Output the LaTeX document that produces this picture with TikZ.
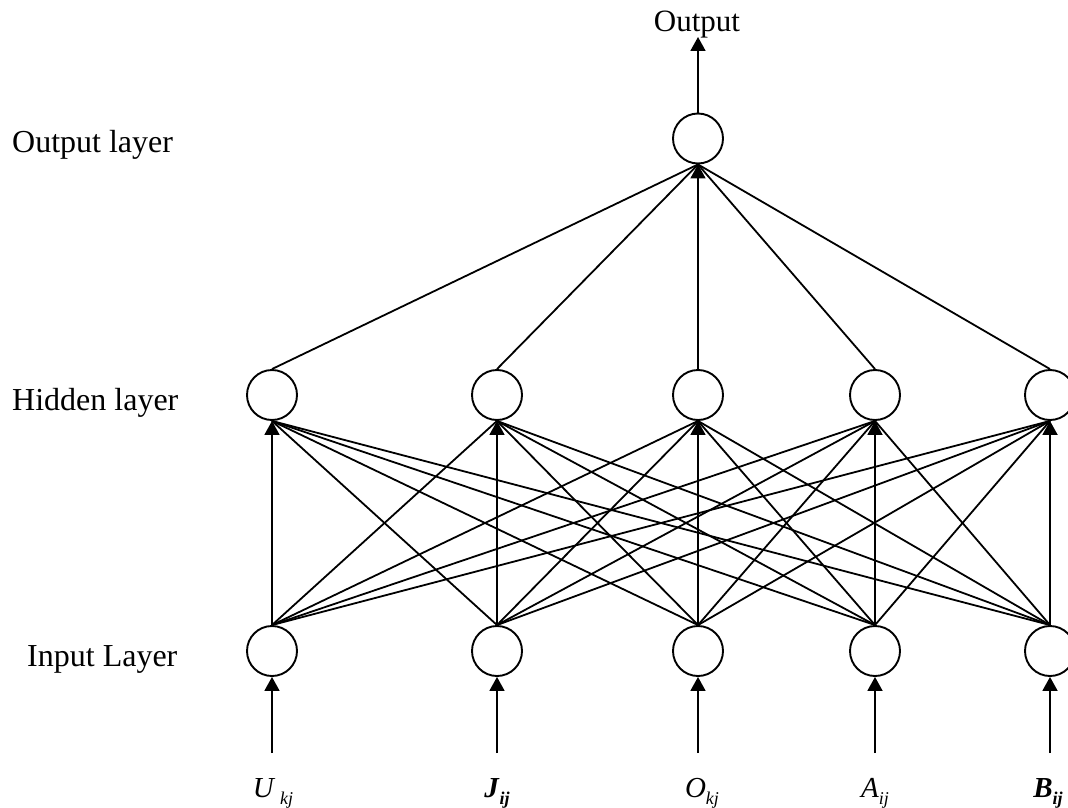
\documentclass[tikz,border=0pt]{standalone}
\usepackage{fontspec}
\setmainfont{Liberation Serif}
\usetikzlibrary{arrows.meta}

\begin{document}
\begin{tikzpicture}[x=1pt,y=-1pt,
  neuron/.style={circle,draw,line width=1.9pt,minimum size=50pt,inner sep=0pt,fill=white},
  link/.style={line width=1.8pt},
  feed/.style={line width=1.8pt,-{Triangle[width=15pt,length=14pt]}},
  layerlabel/.style={anchor=base west,inner sep=0pt,font=\fontsize{32}{38}\selectfont},
  varlabel/.style={anchor=base,inner sep=0pt,font=\fontsize{29}{34}\selectfont}]

\useasboundingbox (0,0) rectangle (1068,808);
\clip (0,0) rectangle (1068,808);

% layer names
\node[layerlabel] (lout) at (12,152) {Output layer};
\node[layerlabel] (lhid) at (12,410) {Hidden layer};
\node[layerlabel] (linp) at (27,666) {Input Layer};

% input and hidden neurons
\foreach \n/\x in {1/272,2/497,3/698,4/875,5/1050}{
  \node[neuron] (i\n) at (\x,651) {};
  \node[neuron] (h\n) at (\x,395) {};
  \coordinate (s\n) at (\x,753);
}
% output neuron
\node[neuron] (o) at (698,138.5) {};
\node[anchor=base,inner sep=0pt,font=\fontsize{31}{36}\selectfont] (out) at (697,32) {Output};
\coordinate (otip) at (698,37);

% input to hidden connections
\foreach \a in {1,...,5}{
  \foreach \b in {1,...,5}{
    \ifnum\a=\b
      \draw[feed] (i\a.north) -- (h\b.south);
    \else
      \draw[link] (i\a.north) -- (h\b.south);
    \fi
  }
}
% hidden to output connections
\foreach \b in {1,2,4,5}{
  \draw[link] (h\b.north) -- (o.south);
}
\draw[feed] (h3.north) -- (o.south);
\draw[feed] (o.north) -- (otip);

% input arrows
\foreach \n in {1,...,5}{
  \draw[feed] (s\n) -- (i\n.south);
}

% input variable names
\node[varlabel] (v1) at (273,797) {\textit{U}\,\raisebox{-7pt}{\fontsize{18}{19}\selectfont\textit{kj}}};
\node[varlabel] (v2) at (497,797) {\textbf{\textit{J}}\raisebox{-7pt}{\fontsize{18}{19}\selectfont\textbf{\textit{ij}}}};
\node[varlabel] (v3) at (702,797) {\textit{O}\raisebox{-7pt}{\fontsize{18}{19}\selectfont\textit{kj}}};
\node[varlabel] (v4) at (875,797) {\textit{A}\raisebox{-7pt}{\fontsize{18}{19}\selectfont\textit{ij}}};
\node[varlabel] (v5) at (1048,797) {\textbf{\textit{B}}\raisebox{-7pt}{\fontsize{18}{19}\selectfont\textbf{\textit{ij}}}};
\end{tikzpicture}
\end{document}
